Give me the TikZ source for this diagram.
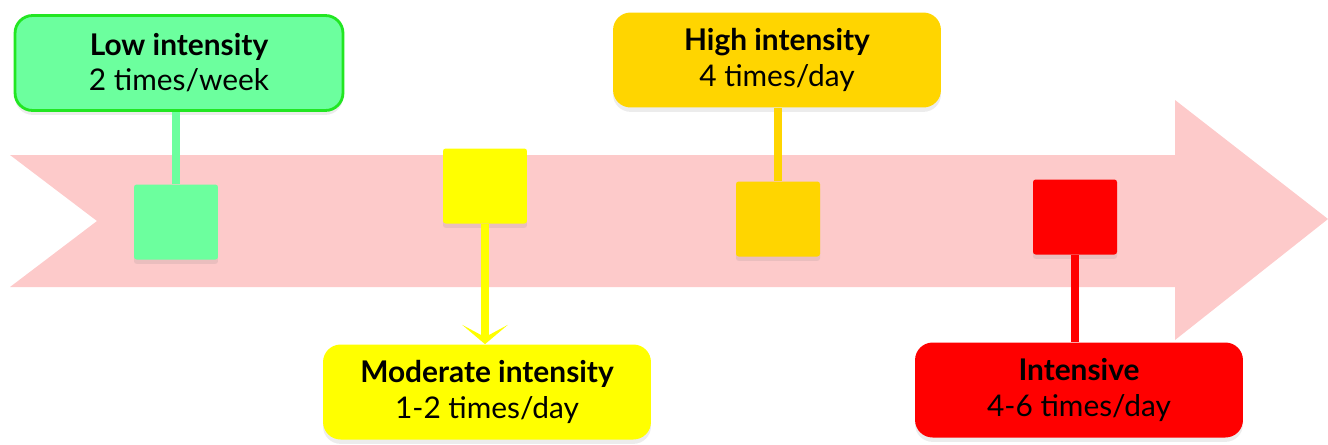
\documentclass[tikz,border=0pt]{standalone}
\usepackage{fontspec}
\setmainfont{Lato}
\usetikzlibrary{shadows,arrows.meta}

\definecolor{band}{HTML}{FDCACA}
\definecolor{lowfill}{HTML}{6CFF9E}
\definecolor{lowedge}{HTML}{22E622}
\definecolor{modfill}{HTML}{FFFF00}
\definecolor{highfill}{HTML}{FFD500}
\definecolor{intfill}{HTML}{FF0000}

\tikzset{
  levelbox/.style={rounded corners=10pt, minimum width=6.56cm, minimum height=1.9cm,
    align=center, font=\fontsize{17}{20}\selectfont, inner sep=0pt,
    drop shadow={shadow xshift=0pt, shadow yshift=-2.5pt, opacity=.15}},
  levelsq/.style={rounded corners=1.5pt, minimum width=1.68cm, minimum height=1.5cm,
    inner sep=0pt, drop shadow={shadow xshift=0pt, shadow yshift=-2.5pt, opacity=.15}},
  stem/.style={line width=5pt}
}

\begin{document}
\begin{tikzpicture}[x=0.02cm,y=-0.02cm]
  \useasboundingbox (0,0) rectangle (1328,444);

  % the band
  \fill[band] (10,155) -- (1175,155) -- (1175,100) -- (1328,219) -- (1175,340)
    -- (1175,287) -- (10,287) -- (97,221) -- cycle;

  % where the squares sit
  \path (176,222) coordinate (lowc) (485,186) coordinate (modc)
    (778,219) coordinate (highc) (1075,217) coordinate (intc);

  % where the labels sit
  \path (179,63) coordinate (lowl) (487,392) coordinate (modl)
    (777,60) coordinate (highl) (1079,390) coordinate (intl);

  % squares on the band
  \path (lowc) node[levelsq, fill=lowfill] (lowsq) {};
  \path (modc) node[levelsq, fill=modfill] (modsq) {};
  \path (highc) node[levelsq, fill=highfill] (highsq) {};
  \path (intc) node[levelsq, fill=intfill] (intsq) {};

  % labels
  \path (lowl) node[levelbox, fill=lowfill, draw=lowedge, line width=1.6pt] (lowbox)
    {\textbf{Low intensity}\\2 times/week};
  \path (modl) node[levelbox, fill=modfill] (modbox)
    {\textbf{Moderate intensity}\\1-2 times/day};
  \path (highl) node[levelbox, fill=highfill] (highbox)
    {\textbf{High intensity}\\4 times/day};
  \path (intl) node[levelbox, fill=intfill] (intbox)
    {\textbf{Intensive}\\4-6 times/day};

  % stems
  \draw[stem, lowfill] (lowsq.north) -- (lowsq.north |- lowbox.south);
  \draw[stem, modfill, -{Stealth[length=11pt,width=26pt,inset=7pt]}] (modsq.south) -- (modsq.south |- modbox.north);
  \draw[stem, highfill] (highsq.north) -- (highsq.north |- highbox.south);
  \draw[stem, intfill] (intsq.south) -- (intsq.south |- intbox.north);
\end{tikzpicture}
\end{document}
